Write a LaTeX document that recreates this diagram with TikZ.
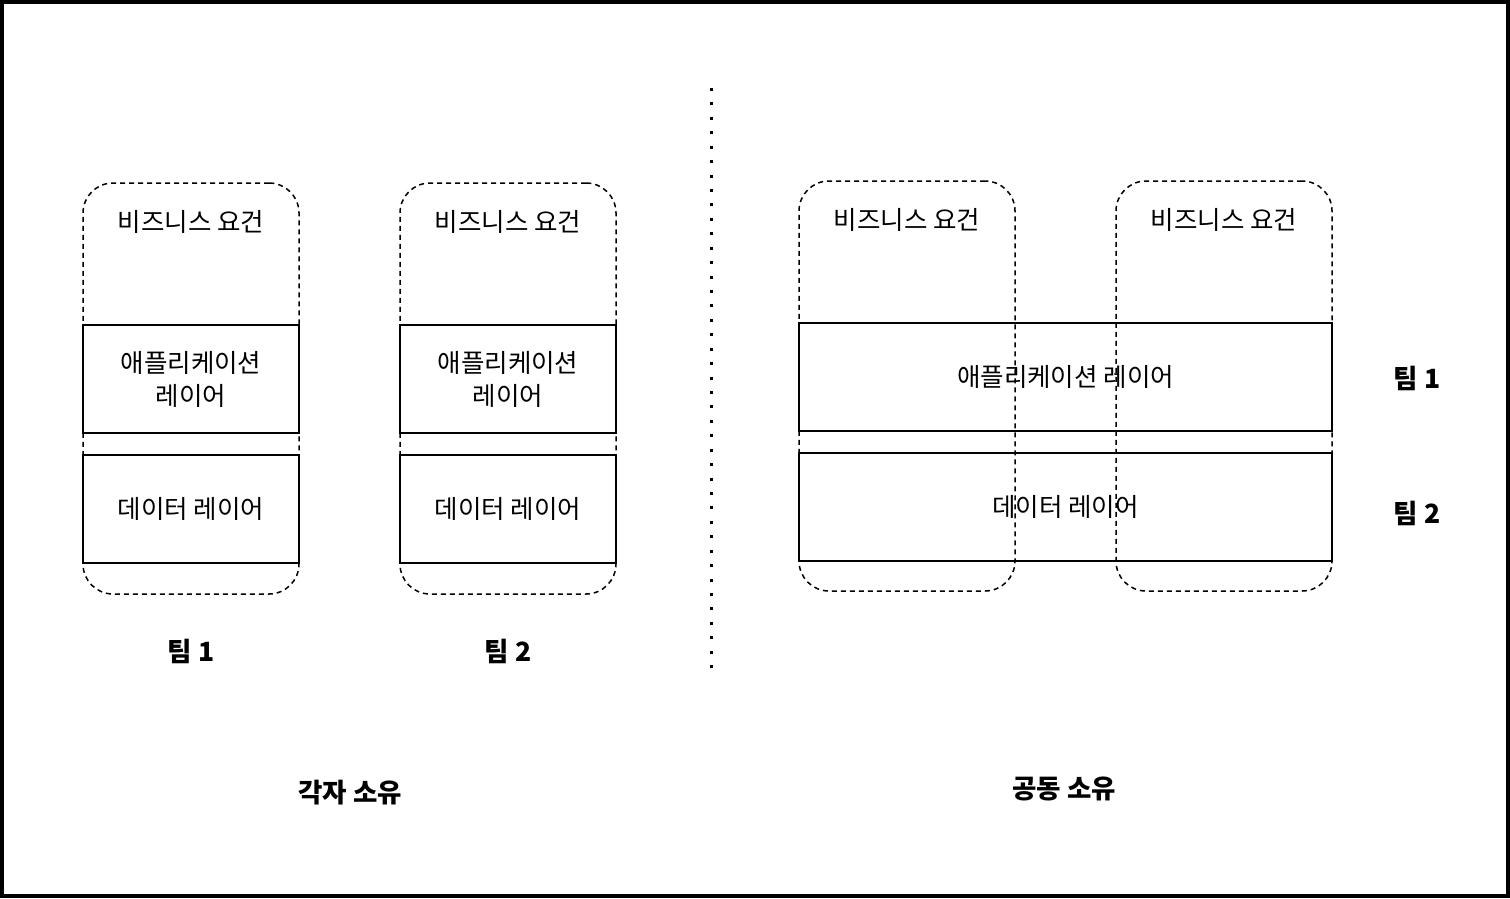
\documentclass[tikz,border=0pt]{standalone}
\usepackage{fontspec}
\setmainfont{Noto Sans CJK KR}
\tikzstyle{owner} = [draw, dashed, dash pattern=on 5pt off 4pt, rounded corners=30pt, line width=1.5pt, minimum width=216pt, minimum height=411pt, inner sep=0pt]
\tikzstyle{layer} = [draw, rectangle, text centered, align=center, line width=1.5pt, minimum width=216pt, minimum height=108pt, inner sep=0pt]
\tikzstyle{label} = [text centered, inner sep=0pt]
\tikzstyle{team} = [text centered, inner sep=0pt, font=\fontsize{26.5}{30}\selectfont\bfseries]
\tikzstyle{divider} = [draw, line width=3pt, dash pattern=on 3pt off 11.43pt]

\begin{document}
\begin{tikzpicture}[x=1pt, y=-1pt, font=\fontsize{25.5}{33}\selectfont]
        \useasboundingbox (0,0) rectangle (1510,898);
        \draw[line width=4pt] (2,2) rectangle (1508,896);
        % separate ownership
        \node[layer] (app1) at (191,379) {애플리케이션\\레이어};
        \node[layer] (data1) at (191,509) {데이터 레이어};
        \node[owner] (own1) at (191,388.5) {};
        \node[label] (biz1) at (191,222) {비즈니스 요건};
        \node[team] (team1) at (191,651) {팀 1};
        \node[layer] (app2) at (508,379) {애플리케이션\\레이어};
        \node[layer] (data2) at (508,509) {데이터 레이어};
        \node[owner] (own2) at (508,388.5) {};
        \node[label] (biz2) at (508,222) {비즈니스 요건};
        \node[team] (team2) at (508,651) {팀 2};
        \node[team] (each) at (350,793) {각자 소유};
        % divider
        \coordinate (top) at (711,88);
        \coordinate (bottom) at (711,668);
        \path[divider] (top) -- (bottom);
        % shared ownership
        \node[layer, minimum width=533pt] (app3) at (1065.5,377) {애플리케이션 레이어};
        \node[layer, minimum width=533pt] (data3) at (1065.5,507) {데이터 레이어};
        \node[owner, minimum height=410pt] (own3) at (907,386) {};
        \node[owner, minimum height=410pt] (own4) at (1224,386) {};
        \node[label] (biz3) at (907,220) {비즈니스 요건};
        \node[label] (biz4) at (1224,220) {비즈니스 요건};
        \node[team] (team3) at (1417,378) {팀 1};
        \node[team] (team4) at (1417,513) {팀 2};
        \node[team] (shared) at (1064,789) {공동 소유};
    \end{tikzpicture}
\end{document}
